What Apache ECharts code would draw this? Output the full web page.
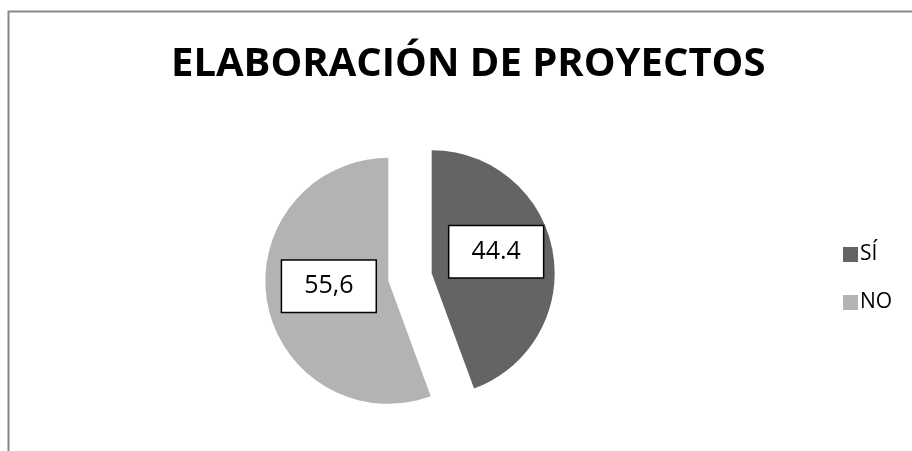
<!DOCTYPE html>
<html>
<head>
<meta charset="utf-8">
<script src="https://cdn.jsdelivr.net/npm/echarts@6/dist/echarts.min.js"></script>
<style>
  html,body{margin:0;padding:0;background:#fff;}
  #main{width:912px;height:451px;}
</style>
</head>
<body>
<div id="main"></div>
<script>
// datos del grafico
var categories = ['SÍ', 'NO'];
var values = [44.4, 55.6];
var labelTexts = ['44.4', '55,6'];
var colors = ['#646464', '#b3b3b3'];

var chart = echarts.init(document.getElementById('main'), null, {renderer: 'canvas'});

var pieData = [];
for (var i = 0; i < categories.length; i++) {
  pieData.push({
    name: categories[i],
    value: values[i],
    selected: true,
    itemStyle: {color: colors[i]}
  });
}

var option = {
  animation: false,
  backgroundColor: '#fff',
  title: {
    text: 'ELABORACIÓN DE PROYECTOS',
    left: 166,
    top: 40,
    textStyle: {
      fontFamily: 'Open Sans',
      fontWeight: 'bold',
      fontSize: 40,
      color: '#000'
    }
  },
  legend: {
    orient: 'vertical',
    left: 838,
    top: 239,
    itemWidth: 15,
    itemHeight: 15,
    itemGap: 27,
    icon: 'rect',
    selectedMode: false,
    data: categories,
    textStyle: {
      fontFamily: 'Open Sans',
      fontSize: 21,
      color: '#000',
      padding: [0, 0, 0, -3]
    }
  },
  graphic: [{
    type: 'rect',
    shape: {x: 8.5, y: 11.5, width: 1000, height: 1000},
    style: {fill: null, stroke: '#878787', lineWidth: 2},
    silent: true
  }],
  series: [{
    type: 'pie',
    center: [410, 277],
    radius: 123,
    startAngle: 90,
    clockwise: true,
    selectedMode: 'multiple',
    selectedOffset: 22,
    silent: true,
    emphasis: {disabled: true},
    labelLine: {show: false},
    labelLayout: function (p) {
      return p.dataIndex === 0 ? {dx: 1, dy: -10} : {dx: 4, dy: -6};
    },
    label: {
      show: true,
      position: 'inside',
      formatter: function (p) {
        return labelTexts[p.dataIndex];
      },
      fontFamily: 'Open Sans',
      fontSize: 25,
      color: '#000',
      backgroundColor: '#fff',
      borderColor: '#000',
      borderWidth: 1.5,
      padding: [14, 22, 12, 22]
    },
    data: pieData
  }]
};

chart.setOption(option);
</script>
</body>
</html>
